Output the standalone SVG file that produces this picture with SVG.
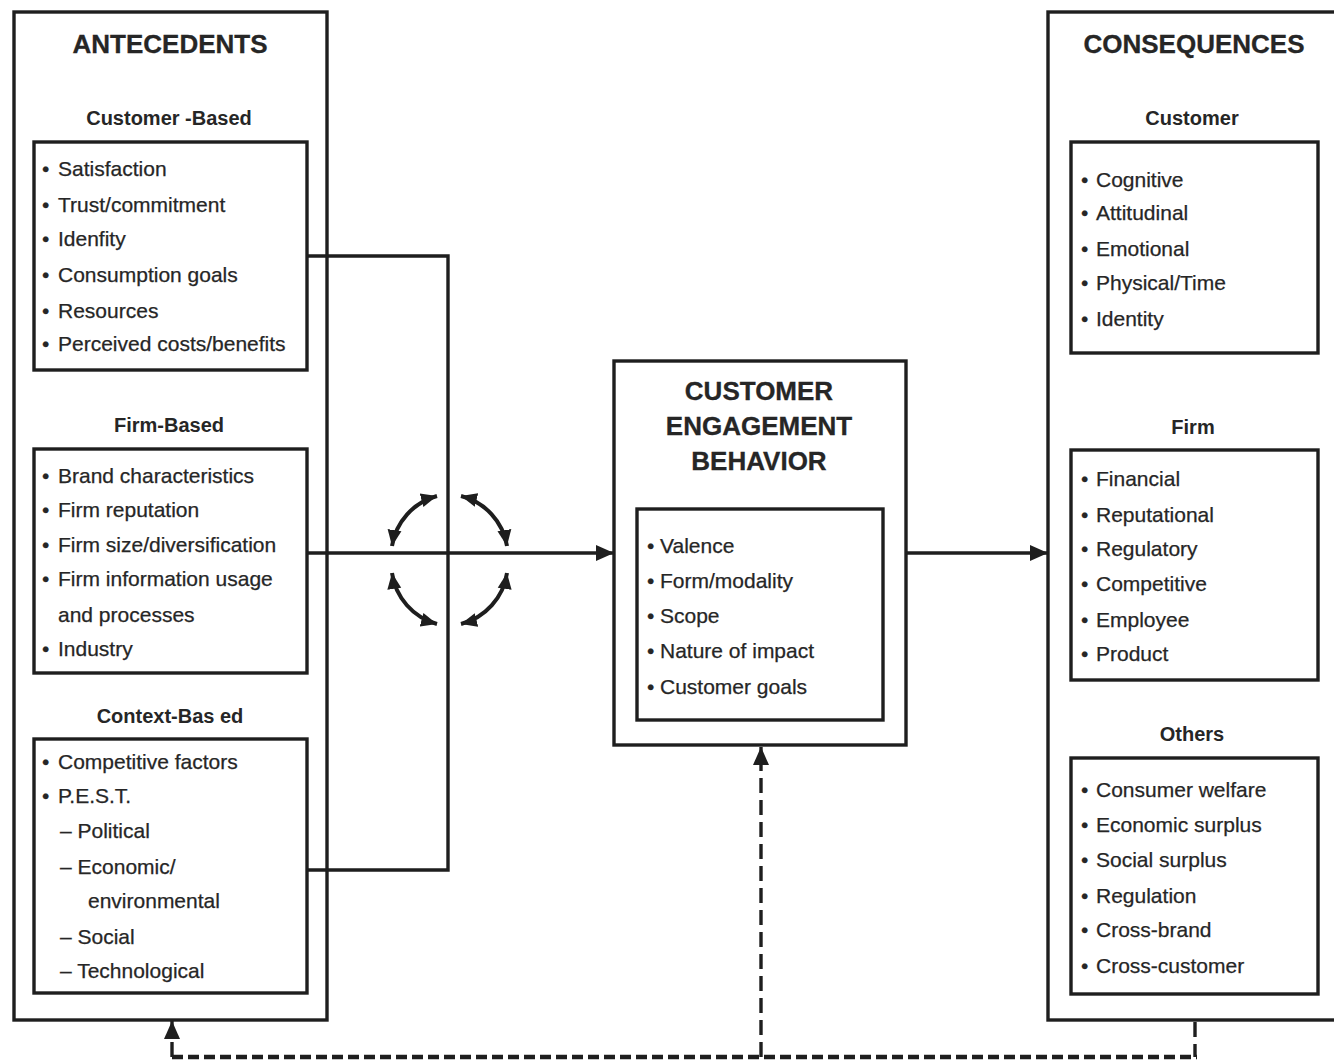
<svg xmlns="http://www.w3.org/2000/svg" width="1334" height="1063" viewBox="0 0 1334 1063">
<style>
.box{fill:none;stroke:#1e1e1e;stroke-width:3.4}
.ln{fill:none;stroke:#1e1e1e;stroke-width:3.4}
.cv{fill:none;stroke:#1e1e1e;stroke-width:4}
.h1{font-family:"Liberation Sans",Arial,sans-serif;font-weight:bold;font-size:26px;fill:#262626;stroke:#262626;stroke-width:0.3;text-anchor:middle}
.h2{font-family:"Liberation Sans",Arial,sans-serif;font-weight:bold;font-size:20px;fill:#262626;text-anchor:middle}
.it{font-family:"Liberation Sans",Arial,sans-serif;font-size:21px;fill:#262626;stroke:#262626;stroke-width:0.25}
.dash{fill:none;stroke:#1e1e1e;stroke-width:4.5;stroke-dasharray:11 5}
.vdash{fill:none;stroke:#1e1e1e;stroke-width:3.4;stroke-dasharray:15 7}
</style>
<defs>
<marker id="ah" markerUnits="userSpaceOnUse" markerWidth="18" markerHeight="18" refX="18" refY="9" orient="auto">
<path d="M0,1 L18,9 L0,17 z" fill="#1e1e1e"/>
</marker>
<marker id="ahs" markerUnits="userSpaceOnUse" markerWidth="16" markerHeight="16" refX="16" refY="8" orient="auto-start-reverse">
<path d="M0,1 L16,8 L0,15 z" fill="#1e1e1e"/>
</marker>
</defs>
<rect width="1334" height="1063" fill="#fff"/>

<g id="antecedents">
<rect class="box" x="14" y="12" width="313" height="1008"/>
<text class="h1" x="170" y="53">ANTECEDENTS</text>
</g>

<g id="customer-based">
<text class="h2" x="169" y="125">Customer -Based</text>
<rect class="box" x="34" y="142" width="273" height="228"/>
<text class="it"><tspan x="42" y="176">•</tspan><tspan x="58" y="176">Satisfaction</tspan></text>
<text class="it"><tspan x="42" y="212">•</tspan><tspan x="58" y="212">Trust/commitment</tspan></text>
<text class="it"><tspan x="42" y="246">•</tspan><tspan x="58" y="246">Idenfity</tspan></text>
<text class="it"><tspan x="42" y="282">•</tspan><tspan x="58" y="282">Consumption goals</tspan></text>
<text class="it"><tspan x="42" y="318">•</tspan><tspan x="58" y="318">Resources</tspan></text>
<text class="it"><tspan x="42" y="351">•</tspan><tspan x="58" y="351">Perceived costs/benefits</tspan></text>
</g>

<g id="firm-based">
<text class="h2" x="169" y="432">Firm-Based</text>
<rect class="box" x="34" y="449" width="273" height="224"/>
<text class="it"><tspan x="42" y="483">•</tspan><tspan x="58" y="483">Brand characteristics</tspan></text>
<text class="it"><tspan x="42" y="517">•</tspan><tspan x="58" y="517">Firm reputation</tspan></text>
<text class="it"><tspan x="42" y="552">•</tspan><tspan x="58" y="552">Firm size/diversification</tspan></text>
<text class="it"><tspan x="42" y="586">•</tspan><tspan x="58" y="586">Firm information usage</tspan></text>
<text class="it"><tspan x="58" y="622">and processes</tspan></text>
<text class="it"><tspan x="42" y="656">•</tspan><tspan x="58" y="656">Industry</tspan></text>
</g>

<g id="context-based">
<text class="h2" x="170" y="723">Context-Bas ed</text>
<rect class="box" x="34" y="739" width="273" height="254"/>
<text class="it"><tspan x="42" y="769">•</tspan><tspan x="58" y="769">Competitive factors</tspan></text>
<text class="it"><tspan x="42" y="803">•</tspan><tspan x="58" y="803">P.E.S.T.</tspan></text>
<text class="it"><tspan x="60" y="838">– Political</tspan></text>
<text class="it"><tspan x="60" y="874">– Economic/</tspan></text>
<text class="it"><tspan x="88" y="908">environmental</tspan></text>
<text class="it"><tspan x="60" y="944">– Social</tspan></text>
<text class="it"><tspan x="60" y="978">– Technological</tspan></text>
</g>

<g id="engagement">
<rect class="box" x="614" y="361" width="292" height="384"/>
<text class="h1" x="759" y="400">CUSTOMER</text>
<text class="h1" x="759" y="435">ENGAGEMENT</text>
<text class="h1" x="759" y="470">BEHAVIOR</text>
<rect class="box" x="637" y="509" width="246" height="211"/>
<text class="it"><tspan x="647" y="553">•</tspan><tspan x="660" y="553">Valence</tspan></text>
<text class="it"><tspan x="647" y="588">•</tspan><tspan x="660" y="588">Form/modality</tspan></text>
<text class="it"><tspan x="647" y="623">•</tspan><tspan x="660" y="623">Scope</tspan></text>
<text class="it"><tspan x="647" y="658">•</tspan><tspan x="660" y="658">Nature of impact</tspan></text>
<text class="it"><tspan x="647" y="694">•</tspan><tspan x="660" y="694">Customer goals</tspan></text>
</g>

<g id="consequences">
<rect class="box" x="1048" y="12" width="300" height="1008"/>
<text class="h1" x="1194" y="53">CONSEQUENCES</text>
</g>

<g id="customer">
<text class="h2" x="1192" y="125">Customer</text>
<rect class="box" x="1071" y="142" width="247" height="211"/>
<text class="it"><tspan x="1081" y="187">•</tspan><tspan x="1096" y="187">Cognitive</tspan></text>
<text class="it"><tspan x="1081" y="220">•</tspan><tspan x="1096" y="220">Attitudinal</tspan></text>
<text class="it"><tspan x="1081" y="256">•</tspan><tspan x="1096" y="256">Emotional</tspan></text>
<text class="it"><tspan x="1081" y="290">•</tspan><tspan x="1096" y="290">Physical/Time</tspan></text>
<text class="it"><tspan x="1081" y="326">•</tspan><tspan x="1096" y="326">Identity</tspan></text>
</g>

<g id="firm">
<text class="h2" x="1193" y="434">Firm</text>
<rect class="box" x="1071" y="450" width="247" height="230"/>
<text class="it"><tspan x="1081" y="486">•</tspan><tspan x="1096" y="486">Financial</tspan></text>
<text class="it"><tspan x="1081" y="522">•</tspan><tspan x="1096" y="522">Reputational</tspan></text>
<text class="it"><tspan x="1081" y="556">•</tspan><tspan x="1096" y="556">Regulatory</tspan></text>
<text class="it"><tspan x="1081" y="591">•</tspan><tspan x="1096" y="591">Competitive</tspan></text>
<text class="it"><tspan x="1081" y="627">•</tspan><tspan x="1096" y="627">Employee</tspan></text>
<text class="it"><tspan x="1081" y="661">•</tspan><tspan x="1096" y="661">Product</tspan></text>
</g>

<g id="others">
<text class="h2" x="1192" y="741">Others</text>
<rect class="box" x="1071" y="758" width="247" height="236"/>
<text class="it"><tspan x="1081" y="797">•</tspan><tspan x="1096" y="797">Consumer welfare</tspan></text>
<text class="it"><tspan x="1081" y="832">•</tspan><tspan x="1096" y="832">Economic surplus</tspan></text>
<text class="it"><tspan x="1081" y="867">•</tspan><tspan x="1096" y="867">Social surplus</tspan></text>
<text class="it"><tspan x="1081" y="903">•</tspan><tspan x="1096" y="903">Regulation</tspan></text>
<text class="it"><tspan x="1081" y="937">•</tspan><tspan x="1096" y="937">Cross-brand</tspan></text>
<text class="it"><tspan x="1081" y="973">•</tspan><tspan x="1096" y="973">Cross-customer</tspan></text>
</g>

<g id="connectors">
<path class="ln" d="M307,256 H448 V870 H307"/>
<path class="ln" d="M307,553 H614" marker-end="url(#ah)"/>
<path class="ln" d="M906,553 H1048" marker-end="url(#ah)"/>
<path class="cv" d="M392,546 A62,62 0 0 1 437,496" marker-start="url(#ahs)" marker-end="url(#ahs)"/>
<path class="cv" d="M461,496 A62,62 0 0 1 507,546" marker-start="url(#ahs)" marker-end="url(#ahs)"/>
<path class="cv" d="M507,573 A62,62 0 0 1 461,624" marker-start="url(#ahs)" marker-end="url(#ahs)"/>
<path class="cv" d="M437,624 A62,62 0 0 1 392,573" marker-start="url(#ahs)" marker-end="url(#ahs)"/>
<path class="dash" d="M172,1057 H1197"/>
<path class="vdash" d="M1195,1022 V1057"/>
<path class="vdash" d="M761,1057 V764"/>
<path class="ln" d="M761,764 V747" marker-end="url(#ah)"/>
<path class="vdash" d="M172,1057 V1038"/>
<path class="ln" d="M172,1036 V1021" marker-end="url(#ah)"/>
</g>
</svg>
